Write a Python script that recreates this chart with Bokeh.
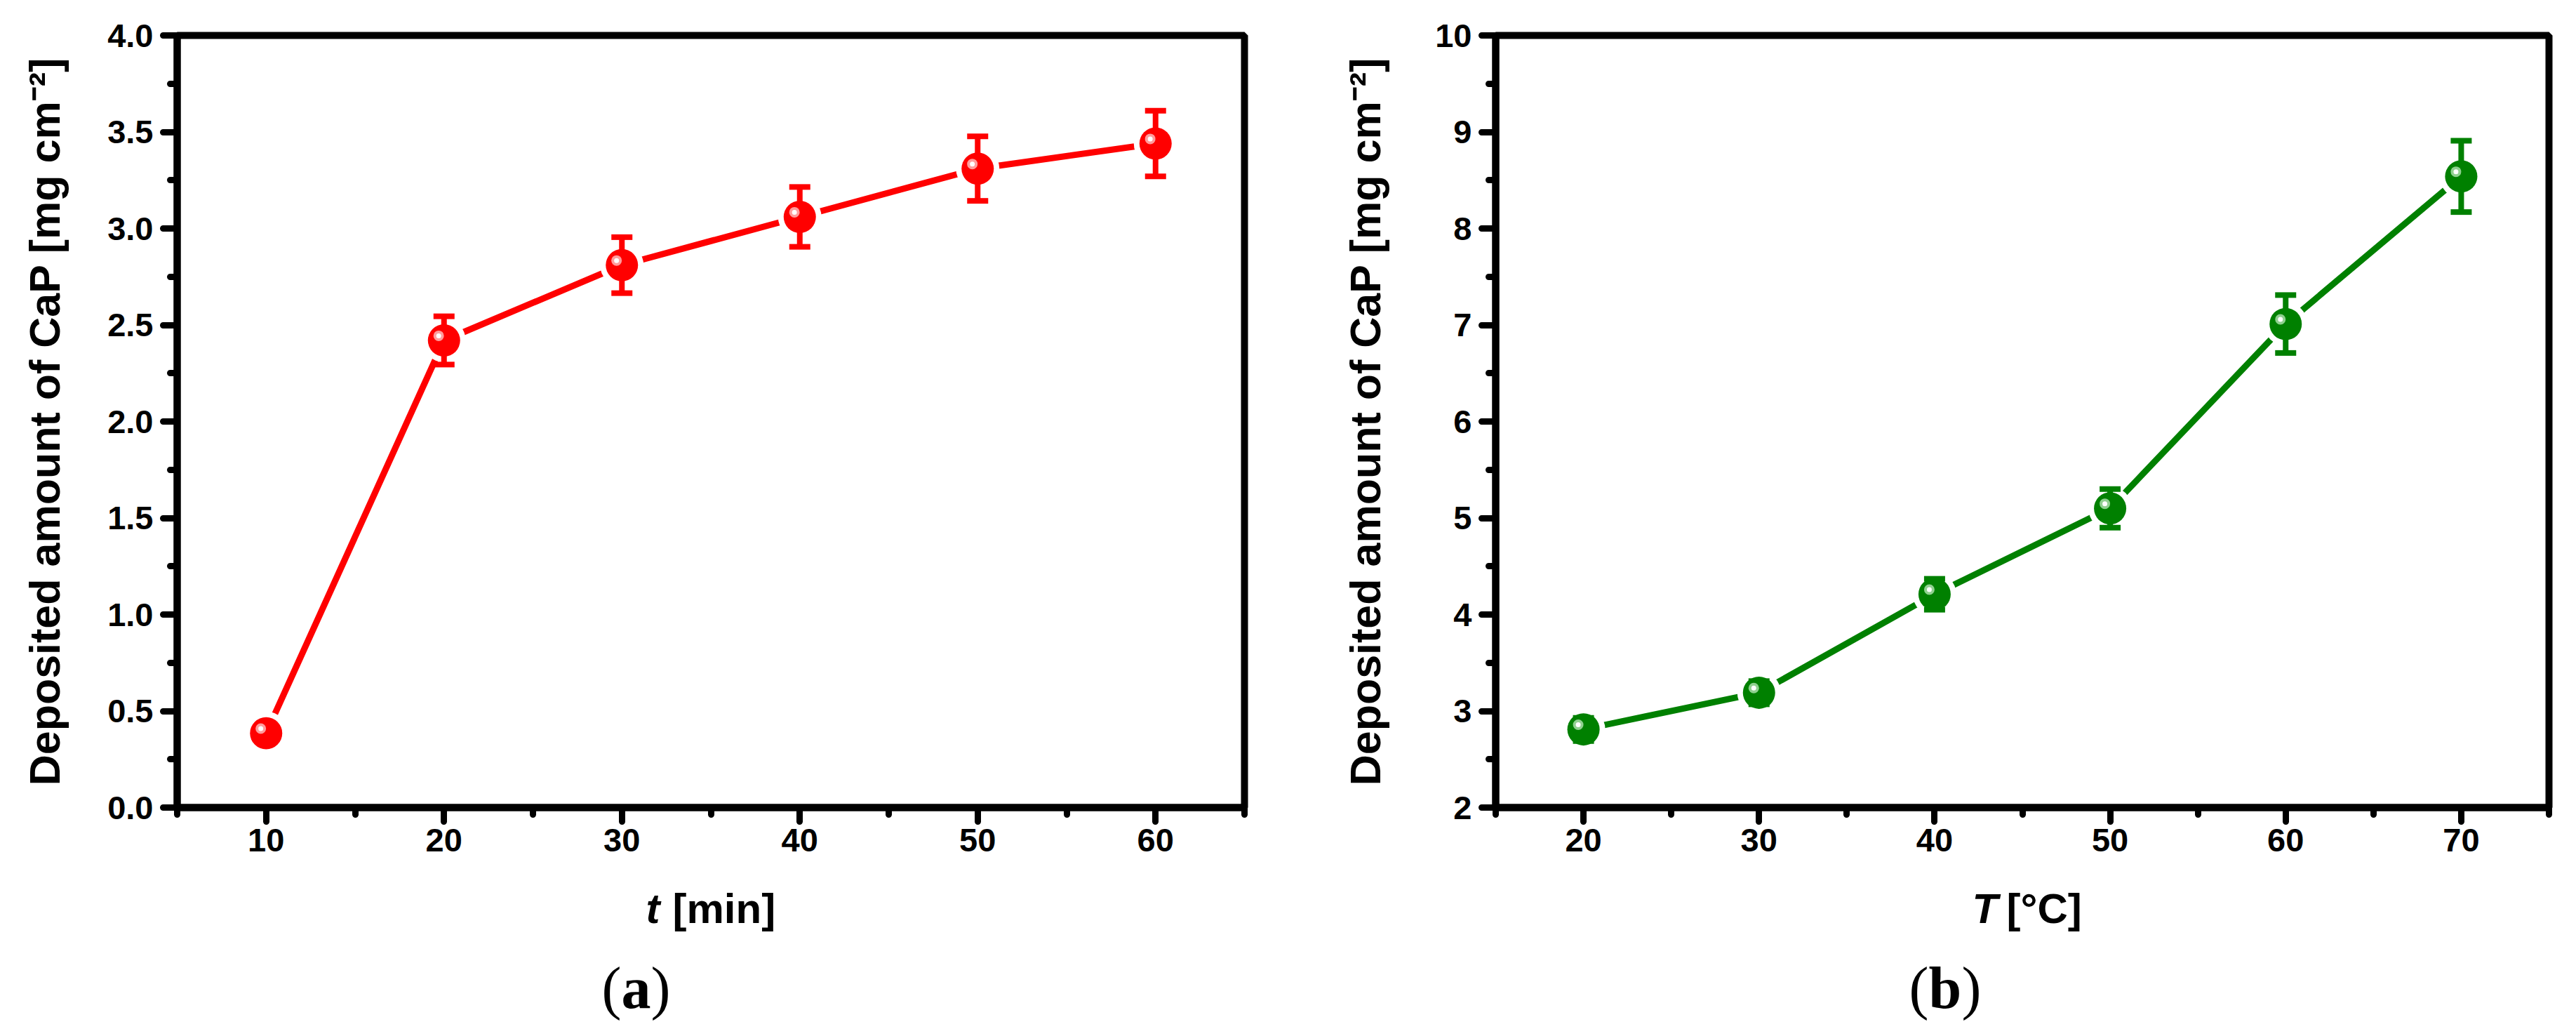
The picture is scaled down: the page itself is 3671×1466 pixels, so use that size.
from bokeh.plotting import figure
from bokeh.models import ColumnDataSource, FixedTicker, NumeralTickFormatter, Label, Range1d
from bokeh.layouts import row, column
from bokeh.transform import dodge
from bokeh.embed import file_html
from bokeh.resources import INLINE

# ---- data ----
t_min = [10, 20, 30, 40, 50, 60]
amount_t = [0.385, 2.42, 2.81, 3.06, 3.31, 3.44]
err_t = [0.04, 0.125, 0.145, 0.155, 0.167, 0.17]

temp_c = [20, 30, 40, 50, 60, 70]
amount_T = [2.81, 3.19, 4.21, 5.10, 7.01, 8.54]
err_T = [0.12, 0.12, 0.16, 0.20, 0.30, 0.37]

xa_major = [10, 20, 30, 40, 50, 60]
xa_minor = [5, 15, 25, 35, 45, 55, 65]
ya_major = [0.0, 0.5, 1.0, 1.5, 2.0, 2.5, 3.0, 3.5, 4.0]
ya_minor = [0.25, 0.75, 1.25, 1.75, 2.25, 2.75, 3.25, 3.75]

xb_major = [20, 30, 40, 50, 60, 70]
xb_minor = [15, 25, 35, 45, 55, 65, 75]
yb_major = [2, 3, 4, 5, 6, 7, 8, 9, 10]
yb_minor = [2.5, 3.5, 4.5, 5.5, 6.5, 7.5, 8.5, 9.5]

Y_LABEL = "Deposited amount of CaP [mg cm\u207b\u00b2]"
H = 1466          # total page height
TOP_H = 1260      # height of the chart row
CAP_H = H - TOP_H # height of the row holding x titles and captions
SANS = "Liberation Sans"
SERIF = "Liberation Serif"
SHIFT = 28        # measured rendering offset of the caption row


def lab(p, text, cx, cy, align="left", size="60px", style="bold", font=SANS):
    # cx, cy: page position (top-left origin); caption figure frame spans its whole canvas
    p.add_layout(Label(x=cx, y=H - cy + SHIFT, x_units="screen", y_units="screen", text=text,
                       text_align=align, text_baseline="alphabetic", text_font=font,
                       text_font_size=size, text_font_style=style, text_color="black"))


def caption_fig(width):
    c = figure(width=width, height=CAP_H, x_range=Range1d(0, 1), y_range=Range1d(0, 1),
               output_backend="svg", toolbar_location=None,
               x_axis_location=None, y_axis_location=None,
               min_border_left=0, min_border_right=0, min_border_top=0, min_border_bottom=0)
    c.xgrid.visible = False
    c.ygrid.visible = False
    c.outline_line_color = None
    c.background_fill_color = "white"
    c.border_fill_color = "white"
    return c


def make_panel(x, y, err, color, ring, x_rng, y_rng, x_major, x_minor, y_major, y_minor,
               y_fmt, width, borders, ylabel_standoff, hl_dx, hl_dy):
    p = figure(width=width, height=TOP_H, x_range=Range1d(*x_rng), y_range=Range1d(*y_rng),
               output_backend="svg", toolbar_location=None,
               min_border_left=borders[0], min_border_right=borders[1],
               min_border_top=borders[2], min_border_bottom=borders[3])
    p.xgrid.visible = False
    p.ygrid.visible = False
    p.outline_line_color = "black"
    p.outline_line_width = 10
    p.background_fill_color = "white"
    p.border_fill_color = "white"

    for ax in (p.xaxis[0], p.yaxis[0]):
        ax.axis_line_width = 10
        ax.axis_line_color = "black"
        ax.major_tick_line_width = 9
        ax.minor_tick_line_width = 9
        ax.major_tick_line_cap = "round"
        ax.minor_tick_line_cap = "round"
        ax.major_tick_in = 0
        ax.major_tick_out = 20
        ax.minor_tick_in = 0
        ax.minor_tick_out = 10
        ax.major_label_text_font = SANS
        ax.major_label_text_font_style = "bold"
        ax.major_label_text_font_size = "47px"
        ax.major_label_text_color = "black"
    p.xaxis[0].ticker = FixedTicker(ticks=x_major, minor_ticks=x_minor)
    p.yaxis[0].ticker = FixedTicker(ticks=y_major, minor_ticks=y_minor)
    p.yaxis[0].formatter = NumeralTickFormatter(format=y_fmt)
    p.xaxis[0].major_label_standoff = 10
    p.yaxis[0].major_label_standoff = 14

    p.yaxis[0].axis_label = Y_LABEL
    p.yaxis[0].axis_label_text_font = SANS
    p.yaxis[0].axis_label_text_font_style = "bold"
    p.yaxis[0].axis_label_text_font_size = "61px"
    p.yaxis[0].axis_label_text_color = "black"
    p.yaxis[0].axis_label_standoff = ylabel_standoff

    upper = [v + e for v, e in zip(y, err)]
    lower = [v - e for v, e in zip(y, err)]
    src = ColumnDataSource(dict(x=x, y=y, upper=upper, lower=lower))

    p.line("x", "y", source=src, line_color=color, line_width=9)
    p.scatter("x", "y", source=src, size=62, fill_color="white", line_color=None)
    p.segment(x0="x", y0="lower", x1="x", y1="upper", source=src, line_color=color, line_width=8)
    p.scatter("x", "upper", source=src, marker="dash", size=30, line_color=color, line_width=8)
    p.scatter("x", "lower", source=src, marker="dash", size=30, line_color=color, line_width=8)
    p.scatter("x", "y", source=src, size=46, fill_color=color, line_color=None)
    p.scatter(dodge("x", hl_dx), dodge("y", hl_dy), source=src, size=15,
              fill_color=ring, line_color=None)
    p.scatter(dodge("x", hl_dx), dodge("y", hl_dy), source=src, size=7,
              fill_color="white", line_color=None)
    return p


pa = make_panel(t_min, amount_t, err_t, "#ff0000", "#ff9c9c", (5, 65), (0, 4),
                xa_major, xa_minor, ya_major, ya_minor, "0.0",
                1835, (252, 62, 50, TOP_H - 1162), 52, -0.3, 0.024)
ca = caption_fig(1835)
lab(ca, "t", 920, 1322, style="bold italic")
lab(ca, "[min]", 958, 1322)
lab(ca, "(", 885, 1435, align="right", size="84px", style="normal", font=SERIF)
lab(ca, "a", 885, 1435, size="84px", style="bold", font=SERIF)
lab(ca, ")", 927, 1435, size="84px", style="normal", font=SERIF)

pb = make_panel(temp_c, amount_T, err_T, "#008000", "#8fd08f", (15, 75), (2, 10),
                xb_major, xb_minor, yb_major, yb_minor, "0",
                1836, (296, 39, 49, TOP_H - 1150), 62, -0.3, 0.048)
cb = caption_fig(1836)
lab(cb, "T", 975, 1322, style="bold italic")
lab(cb, "[\u00b0C]", 1024, 1322)
lab(cb, "(", 913, 1435, align="right", size="84px", style="normal", font=SERIF)
lab(cb, "b", 913, 1435, size="84px", style="bold", font=SERIF)
lab(cb, ")", 960, 1435, size="84px", style="normal", font=SERIF)

layout = column(row(pa, pb), row(ca, cb))
open("out.html", "w").write(file_html(layout, INLINE))
